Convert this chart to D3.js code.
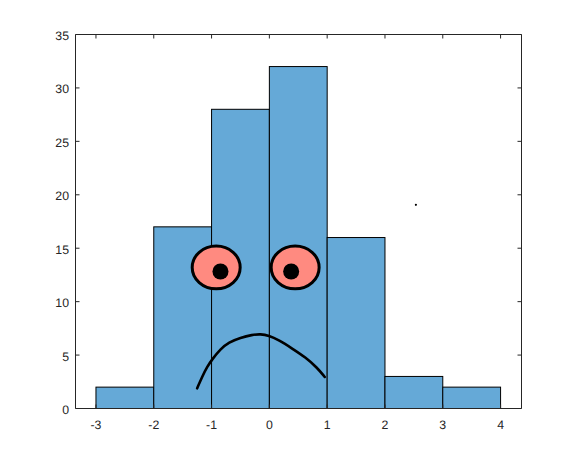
<!DOCTYPE html>
<html><head><meta charset="utf-8">
<script src="https://cdn.jsdelivr.net/npm/d3@7"></script>
<style>html,body{margin:0;padding:0;background:#fff}svg{display:block}
text{font-family:"Liberation Sans",Arial,sans-serif;font-size:12.3px;fill:#262626;text-rendering:geometricPrecision}</style>
</head><body><svg id="c" width="576" height="459"></svg>
<script>
const binEdges=[-3,-2,-1,0,1,2,3,4];
const counts=[2,17,28,32,16,3,2];
const xTicks=[-3,-2,-1,0,1,2,3,4];
const yTicks=[0,5,10,15,20,25,30,35];
const eyeX=[-0.92,0.446];
const eyeY=[13.2,13.2];
const pupilX=[-0.846,0.377];
const pupilY=[12.82,12.82];
const mouthX=[-1.249,-1.163,-1.076,-0.990,-0.846,-0.702,-0.500,-0.298,-0.154,-0.010,0.163,0.394,0.625,0.827,0.958];
const mouthY=[1.89,2.98,3.91,4.60,5.57,6.20,6.63,6.90,6.97,6.84,6.40,5.62,4.79,3.82,2.95];
const dotX=[2.535],dotY=[19.06];

const L=75.5,R=521.5,T=34.5,B=408.5;
const x=d3.scaleLinear().domain([-3.354,4.362]).range([L,R]);
const y=d3.scaleLinear().domain([0,35]).range([B,T]);
const svg=d3.select('#c');
svg.selectAll('rect.bar').data(counts).join('rect').attr('class','bar')
 .attr('x',(d,i)=>x(binEdges[i])).attr('width',(d,i)=>x(binEdges[i+1])-x(binEdges[i]))
 .attr('y',d=>y(d)).attr('height',d=>y(0)-y(d))
 .attr('fill','#65a9d7').attr('stroke','#000').attr('stroke-width',1);

function style(g){g.selectAll('path,line').attr('stroke','#262626').attr('stroke-width',1);g.selectAll('text').attr('fill','#262626').style('font-family','"Liberation Sans",Arial,sans-serif').style('font-size','12.3px');}
const axB=d3.axisBottom(x).offset(0).tickValues(xTicks).tickSizeInner(-4).tickSizeOuter(0).tickPadding(12).tickFormat(String);
const axL=d3.axisLeft(y).offset(0).tickValues(yTicks).tickSizeInner(-4).tickSizeOuter(0).tickPadding(6.5).tickFormat(String);
const axT=d3.axisTop(x).offset(0).tickValues(xTicks).tickSizeInner(-4).tickSizeOuter(0).tickFormat('');
const axR=d3.axisRight(y).offset(0).tickValues(yTicks).tickSizeInner(-4).tickSizeOuter(0).tickFormat('');
svg.append('g').attr('transform',`translate(0,${B})`).call(axB).call(style);
svg.append('g').attr('transform',`translate(${L},0)`).call(axL).call(style).call(g=>g.selectAll('text').attr('dy','0.45em'));
svg.append('g').attr('transform',`translate(0,${T})`).call(axT).call(style);
svg.append('g').attr('transform',`translate(${R},0)`).call(axR).call(style);

svg.selectAll('ellipse.eye').data(eyeX).join('ellipse').attr('class','eye')
 .attr('cx',d=>x(d)).attr('cy',(d,i)=>y(eyeY[i]))
 .attr('rx',x(0.415)-x(0)).attr('ry',y(0)-y(2.0))
 .attr('fill','#ff8a80').attr('stroke','#000').attr('stroke-width',3);
svg.selectAll('circle.pupil').data(pupilX).join('circle').attr('class','pupil')
 .attr('cx',d=>x(d)).attr('cy',(d,i)=>y(pupilY[i])).attr('r',8).attr('fill','#000');
const line=d3.line().x(d=>x(d[0])).y(d=>y(d[1])).curve(d3.curveBasis);
svg.append('path').datum(mouthX.map((d,i)=>[d,mouthY[i]])).attr('d',line)
 .attr('fill','none').attr('stroke','#000').attr('stroke-width',2.6).attr('stroke-linecap','round');
svg.selectAll('circle.dot').data(dotX).join('circle').attr('class','dot')
 .attr('cx',d=>x(d)).attr('cy',(d,i)=>y(dotY[i])).attr('r',1.1).attr('fill','#000');
</script></body></html>
